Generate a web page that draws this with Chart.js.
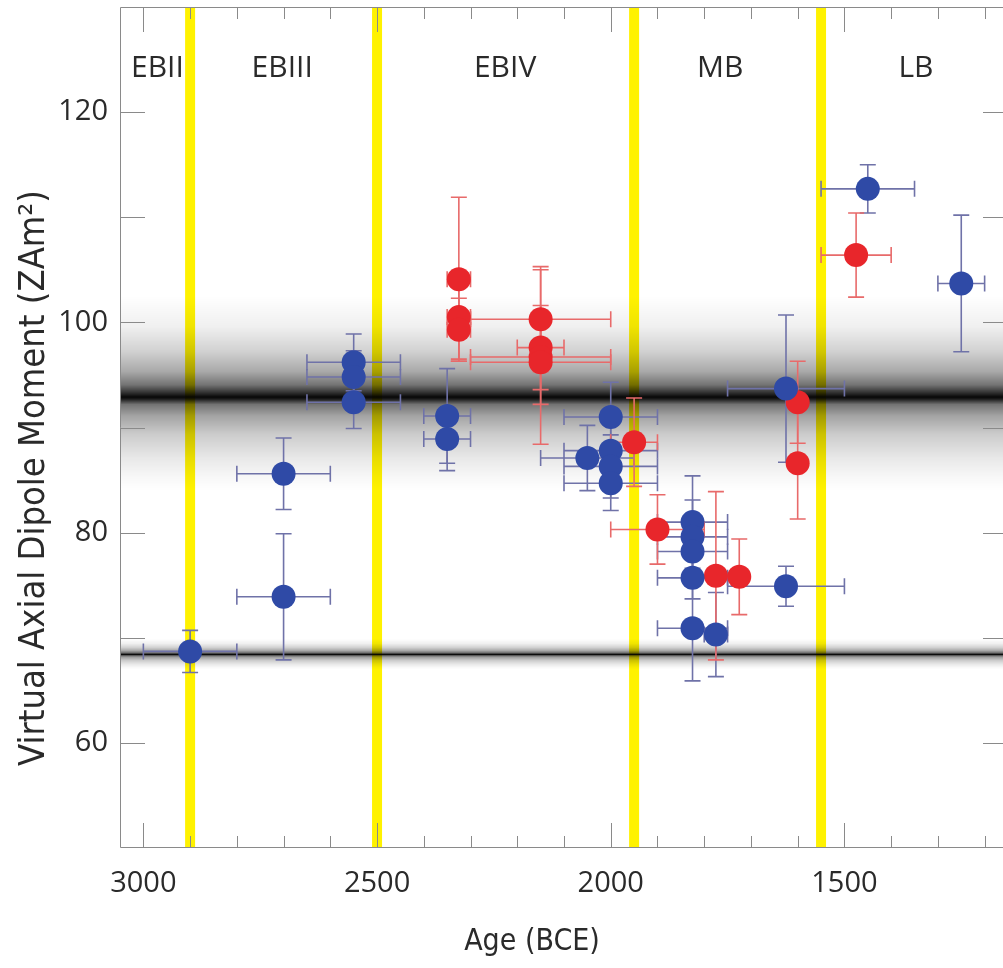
<!DOCTYPE html>
<html>
<head>
<meta charset="utf-8">
<script src="https://cdn.jsdelivr.net/npm/chart.js@4.4.0/dist/chart.umd.min.js"></script>
<style>
  html, body { margin: 0; padding: 0; background: #fff; overflow: hidden; }
  #wrap { width: 1020px; height: 973px; margin-top: -5px; }
</style>
</head>
<body>
<div id="wrap"><canvas id="vadmChart" width="1020" height="973"></canvas></div>
<script>
// archaeointensity results (blue / red groups), age in years BCE
const blueAge = [2900, 2700, 2700, 2550, 2550, 2550, 2350, 2350, 2050, 2000, 2000, 2000, 2000, 1825, 1825, 1825, 1825, 1825, 1775, 1625, 1625, 1450, 1250];
const blueVadm = [68.7, 85.6, 73.9, 96.2, 94.8, 92.4, 91.1, 88.9, 87.1, 91.0, 87.8, 86.3, 84.7, 81.0, 79.6, 78.2, 75.7, 70.9, 70.3, 74.9, 93.7, 112.7, 103.7];
const blueAgeErr = [100, 100, 100, 100, 100, 100, 50, 50, 100, 100, 100, 100, 100, 75, 75, 75, 75, 75, 25, 125, 125, 100, 50];
const blueVadmErr = [2, 3.4, 6, 2.7, 2.5, 2.5, 4.5, 3, 3.1, 3.3, 3, 3, 2.6, 4.4, 3.5, 3.2, 2, 5, 4, 1.9, 7, 2.3, 6.5];

const redAge = [2325, 2325, 2325, 2150, 2150, 2150, 2150, 1950, 1900, 1775, 1725, 1600, 1600, 1475];
const redVadm = [104.1, 100.5, 99.3, 100.3, 97.6, 96.7, 96.2, 88.6, 80.3, 75.9, 75.8, 92.4, 86.6, 106.4];
const redAgeErr = [25, 25, 25, 150, 50, 150, 150, 50, 100, 0, 0, 0, 0, 75];
const redVadmErr = [7.8, 4, 3, 5, 4, 8.3, 4, 4.2, 3.3, 8, 3.6, 3.9, 5.3, 4];

// archaeological periods
const periodNames = ["EBII", "EBIII", "EBIV", "MB", "LB"];
const periodLabelAge = [2970, 2703, 2226, 1766, 1347];
const periodBoundaries = [2900, 2500, 1950, 1550];

// grey bands: upper edge, darkest line, lower edge (ZAm2)
const bandTop = [102.5, 69.9];
const bandCenter = [92.9, 68.4];
const bandBottom = [84.0, 67.0];

const xTickLabels = [3000, 2500, 2000, 1500];
const yTickLabels = [60, 80, 100, 120];

const BLUE = "#2f4aa6";
const RED = "#e8262b";
const BLUE_ERR = "#6f72a8";
const RED_ERR = "#e86a6a";
const TEXT = "#2a2a2a";
const NUM_FONT = "'Open Sans', 'DejaVu Sans', sans-serif";
const TITLE_FONT = "'Liberation Sans Narrow', 'DejaVu Sans Condensed', 'Open Sans', sans-serif";

function toPoints(xs, ys) {
    return xs.map((x, i) => ({ x: x, y: ys[i] }));
}

function drawErrorBars(ctx, xs, ys, xe, ye, color, sx, sy) {
    ctx.save();
    ctx.strokeStyle = color;
    ctx.lineWidth = 1.6;
    const cap = 8;
    for (let i = 0; i < xs.length; i++) {
        const px = sx.getPixelForValue(xs[i]);
        const py = sy.getPixelForValue(ys[i]);
        ctx.beginPath();
        if (ye[i] > 0) {
            const t = sy.getPixelForValue(ys[i] + ye[i]);
            const b = sy.getPixelForValue(ys[i] - ye[i]);
            ctx.moveTo(px, t); ctx.lineTo(px, b);
            ctx.moveTo(px - cap, t); ctx.lineTo(px + cap, t);
            ctx.moveTo(px - cap, b); ctx.lineTo(px + cap, b);
        }
        if (xe[i] > 0) {
            const l = sx.getPixelForValue(xs[i] + xe[i]);
            const r = sx.getPixelForValue(xs[i] - xe[i]);
            ctx.moveTo(l, py); ctx.lineTo(r, py);
            ctx.moveTo(l, py - cap); ctx.lineTo(l, py + cap);
            ctx.moveTo(r, py - cap); ctx.lineTo(r, py + cap);
        }
        ctx.stroke();
    }
    ctx.restore();
}

const backdropPlugin = {
    id: "backdrop",
    beforeDatasetsDraw(chart) {
        const { ctx, chartArea: a, scales: { x, y } } = chart;
        ctx.save();
        ctx.beginPath();
        ctx.rect(a.left, a.top, a.right - a.left, a.bottom - a.top);
        ctx.clip();

        // yellow period boundaries
        ctx.fillStyle = "#fff200";
        periodBoundaries.forEach(v => {
            const px = x.getPixelForValue(v);
            ctx.fillRect(px - 5, a.top, 10, a.bottom - a.top);
        });

        // grey bands
        for (let i = 0; i < bandCenter.length; i++) {
            const t = y.getPixelForValue(bandTop[i]);
            const b = y.getPixelForValue(bandBottom[i]);
            const c = (y.getPixelForValue(bandCenter[i]) - t) / (b - t);
            const g = ctx.createLinearGradient(0, t, 0, b);
            const up = [[0, 0], [0.3, 0.06], [0.55, 0.18], [0.75, 0.34], [0.88, 0.55], [0.96, 0.82], [1, 0.97]];
            const dn = [[0.02, 0.9], [0.08, 0.55], [0.2, 0.36], [0.4, 0.2], [0.65, 0.09], [0.85, 0.03], [1, 0]];
            up.forEach(([f, al]) => g.addColorStop(c * f, "rgba(0,0,0," + al + ")"));
            dn.forEach(([f, al]) => g.addColorStop(c + (1 - c) * f, "rgba(0,0,0," + al + ")"));
            ctx.fillStyle = g;
            ctx.fillRect(a.left, t, a.right - a.left, b - t);
        }
        ctx.restore();

        // frame and inward ticks
        ctx.save();
        ctx.strokeStyle = "#8a8a8a";
        ctx.lineWidth = 1;
        ctx.beginPath();
        ctx.moveTo(a.left + 0.5, a.top + 0.5);
        ctx.lineTo(a.right - 0.5, a.top + 0.5);
        ctx.lineTo(a.right - 0.5, a.bottom - 0.5);
        ctx.lineTo(a.left + 0.5, a.bottom - 0.5);
        ctx.closePath();
        for (let v = 1200; v <= 3000; v += 100) {
            const px = Math.round(x.getPixelForValue(v)) + 0.5;
            const len = v % 500 === 0 ? 25 : 12;
            ctx.moveTo(px, a.bottom); ctx.lineTo(px, a.bottom - len);
            ctx.moveTo(px, a.top); ctx.lineTo(px, a.top + len);
        }
        for (let v = 60; v <= 120; v += 10) {
            const py = Math.round(y.getPixelForValue(v)) + 0.5;
            ctx.moveTo(a.left, py); ctx.lineTo(a.left + 25, py);
            ctx.moveTo(a.right, py); ctx.lineTo(a.right - 25, py);
        }
        ctx.stroke();

        // period names
        ctx.fillStyle = TEXT;
        ctx.font = "30px " + NUM_FONT;
        ctx.textAlign = "center";
        ctx.textBaseline = "middle";
        periodNames.forEach((n, i) => {
            ctx.fillText(n, x.getPixelForValue(periodLabelAge[i]), y.getPixelForValue(124.2));
        });
        ctx.restore();

        drawErrorBars(ctx, blueAge, blueVadm, blueAgeErr, blueVadmErr, BLUE_ERR, x, y);
        drawErrorBars(ctx, redAge, redVadm, redAgeErr, redVadmErr, RED_ERR, x, y);
    },
    afterDraw(chart) {
        const { ctx } = chart;
        ctx.save();
        ctx.fillStyle = TEXT;
        ctx.textAlign = "center";
        ctx.textBaseline = "middle";
        ctx.font = "30px " + TITLE_FONT;
        ctx.fillText("Age (BCE)", 532, 947);
        ctx.translate(35, 483);
        ctx.rotate(-Math.PI / 2);
        ctx.font = "36px " + TITLE_FONT;
        ctx.fillText("Virtual Axial Dipole Moment (ZAm²)", 0, 0);
        ctx.restore();
    }
};

new Chart(document.getElementById("vadmChart"), {
    type: "scatter",
    data: {
        datasets: [{
            label: "Blue",
            data: toPoints(blueAge, blueVadm),
            backgroundColor: BLUE,
            borderWidth: 0,
            pointRadius: 12
        }, {
            label: "Red",
            data: toPoints(redAge, redVadm),
            backgroundColor: RED,
            borderWidth: 0,
            pointRadius: 12
        }]
    },
    options: {
        responsive: false,
        animation: false,
        devicePixelRatio: 1,
        layout: { padding: { top: 1, right: 8, left: 0, bottom: 0 } },
        plugins: { legend: { display: false }, tooltip: { enabled: false } },
        scales: {
            x: {
                type: "linear",
                reverse: true,
                min: 1150,
                max: 3050,
                grid: { display: false },
                border: { display: false },
                afterBuildTicks: s => { s.ticks = xTickLabels.map(v => ({ value: v })); },
                afterFit: s => { s.height = 120; s.paddingLeft = 0; s.paddingRight = 0; },
                ticks: { color: TEXT, font: { size: 29, family: NUM_FONT }, padding: 10, maxRotation: 0, callback: v => String(v) }
            },
            y: {
                min: 50,
                max: 130,
                grid: { display: false },
                border: { display: false },
                afterBuildTicks: s => { s.ticks = yTickLabels.map(v => ({ value: v })); },
                afterFit: s => { s.width = 120; s.paddingTop = 0; s.paddingBottom = 0; },
                ticks: { color: TEXT, font: { size: 29, family: NUM_FONT }, padding: 4 }
            }
        }
    },
    plugins: [backdropPlugin]
});
</script>
</body>
</html>
